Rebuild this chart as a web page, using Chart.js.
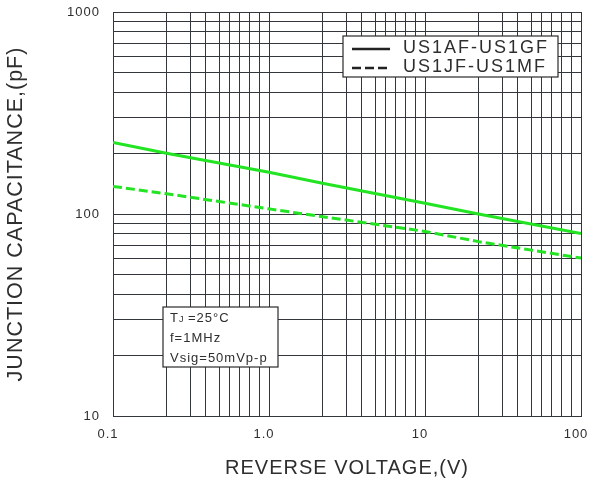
<!DOCTYPE html>
<html>
<head>
<meta charset="utf-8">
<script src="https://cdn.jsdelivr.net/npm/chart.js@4.4.0/dist/chart.umd.min.js"></script>
<style>
  body { margin: 0; background: #fff; }
  #wrap { width: 590px; height: 483px; }
</style>
</head>
<body>
<div id="wrap"><canvas id="chart_instance" width="590" height="483"></canvas></div>
<script>
// values
var voltage = [0.1, 0.22, 1, 2.2, 10, 22, 100];
var capAtoG = [226, 200, 161, 142, 113, 100, 80];
var capJtoM = [137, 126, 106, 97, 82, 73, 60.5];
var seriesNames = ["US1AF-US1GF", "US1JF-US1MF"];

var xTickValues = [0.1, 1, 10, 100];
var xTickLabels = ["0.1", "1.0", "10", "100"];
var yTickValues = [10, 100, 1000];
var yTickLabels = ["10", "100", "1000"];

// grid lines of the original sheet (they are not exactly 2..9 on x)
var xGridSteps = [1, 2.21, 3.16, 3.89, 4.79, 5.55, 6.43, 7.45, 8.63];
var yGridSteps = [1, 2, 3, 4, 5, 6, 7, 8, 9];
var noteLines = ["=25°C", "f=1MHz", "Vsig=50mVp-p"];

var green = "#22e422";
var gridColor = "#33363c";
var textColor = "#2e2e2e";
var fontFamily = "'Liberation Sans', Arial, sans-serif";

function gridFor(steps, lo, hi) {
    var out = [];
    for (var d = lo; d < hi; d *= 10) {
        steps.forEach(function (s) { out.push({ value: d * s }); });
    }
    out.push({ value: hi });
    return out;
}

function labelFor(values, labels, v) {
    for (var i = 0; i < values.length; i++) {
        if (Math.abs(values[i] - v) / values[i] < 1e-6) return labels[i];
    }
    return "";
}

var spacingPlugin = {
    id: "spacing",
    beforeLayout: function (chart) { chart.ctx.letterSpacing = "1px"; },
    beforeDraw: function (chart) { chart.ctx.letterSpacing = "1px"; }
};

var boxesPlugin = {
    id: "boxes",
    afterDraw: function (chart) {
        var ctx = chart.ctx;
        var area = chart.chartArea;
        ctx.save();

        // legend box
        var lx = area.left + 230, ly = area.top + 24, lw = 215, lh = 41;
        ctx.fillStyle = "#fff";
        ctx.fillRect(lx, ly, lw, lh);
        ctx.strokeStyle = "#2a2a2a";
        ctx.lineWidth = 1.2;
        ctx.strokeRect(lx, ly, lw, lh);
        ctx.font = "18px " + fontFamily;
        ctx.letterSpacing = "2px";
        ctx.textBaseline = "middle";
        ctx.fillStyle = textColor;
        chart.data.datasets.forEach(function (ds, i) {
            var yy = ly + 12 + i * 19;
            ctx.beginPath();
            ctx.setLineDash(ds.borderDash || []);
            ctx.lineWidth = 2.5;
            ctx.strokeStyle = "#222";
            ctx.moveTo(lx + 9, yy + 1);
            ctx.lineTo(lx + 47, yy + 1);
            ctx.stroke();
            ctx.setLineDash([]);
            ctx.fillText(ds.label, lx + 60, yy);
        });

        // test condition box
        var nx = area.left + 50, ny = 307, nw = 115, nh = 60;
        ctx.fillStyle = "#fff";
        ctx.fillRect(nx, ny, nw, nh);
        ctx.strokeStyle = "#2a2a2a";
        ctx.lineWidth = 1.2;
        ctx.strokeRect(nx, ny, nw, nh);
        ctx.fillStyle = textColor;
        ctx.letterSpacing = "1px";
        ctx.font = "13px " + fontFamily;
        ctx.textBaseline = "alphabetic";
        var bx = nx + 7;
        ctx.fillText("T", bx, ny + 15);
        var tw = ctx.measureText("T").width;
        ctx.font = "9px " + fontFamily;
        ctx.fillText("J", bx + tw, ny + 15);
        var jw = ctx.measureText("J ").width;
        ctx.font = "13px " + fontFamily;
        ctx.fillText(noteLines[0], bx + tw + jw, ny + 15);
        ctx.fillText(noteLines[1], bx, ny + 35);
        ctx.fillText(noteLines[2], bx, ny + 55);
        ctx.restore();
    }
};

var ctx2d = document.getElementById("chart_instance").getContext("2d");
var chart_instance = new Chart(ctx2d, {
    type: "line",
    data: {
        datasets: [
            {
                label: seriesNames[0],
                data: voltage.map(function (v, i) { return { x: v, y: capAtoG[i] }; }),
                borderColor: green,
                borderWidth: 3,
                pointRadius: 0,
                tension: 0
            },
            {
                label: seriesNames[1],
                data: voltage.map(function (v, i) { return { x: v, y: capJtoM[i] }; }),
                borderColor: green,
                borderWidth: 3,
                borderDash: [9, 4],
                pointRadius: 0,
                tension: 0
            }
        ]
    },
    options: {
        responsive: false,
        animation: false,
        layout: { padding: { top: 12, right: 9, left: 0, bottom: 0 } },
        plugins: {
            legend: { display: false },
            tooltip: { enabled: false }
        },
        scales: {
            x: {
                type: "logarithmic",
                min: 0.1,
                max: 100,
                afterBuildTicks: function (scale) { scale.ticks = gridFor(xGridSteps, 0.1, 100); },
                afterFit: function (scale) {
                    scale.height = 67;
                    scale.paddingLeft = 0;
                    scale.paddingRight = 0;
                },
                grid: { color: gridColor, lineWidth: 1, drawTicks: false },
                border: { color: gridColor, width: 1 },
                ticks: {
                    autoSkip: false,
                    maxRotation: 0,
                    padding: 11,
                    labelOffset: -5,
                    color: textColor,
                    font: { family: fontFamily, size: 13 },
                    callback: function (v) { return labelFor(xTickValues, xTickLabels, v); }
                },
                title: {
                    display: true,
                    text: "REVERSE VOLTAGE,(V)",
                    color: textColor,
                    font: { family: fontFamily, size: 20 },
                    padding: { top: 0, bottom: 3 }
                }
            },
            y: {
                type: "logarithmic",
                min: 10,
                max: 1000,
                afterBuildTicks: function (scale) { scale.ticks = gridFor(yGridSteps, 10, 1000); },
                afterFit: function (scale) {
                    scale.width = 113;
                    scale.paddingTop = 0;
                    scale.paddingBottom = 0;
                },
                grid: { color: gridColor, lineWidth: 1, drawTicks: false },
                border: { color: gridColor, width: 1 },
                ticks: {
                    autoSkip: false,
                    padding: 13,
                    color: textColor,
                    font: { family: fontFamily, size: 13 },
                    callback: function (v) { return labelFor(yTickValues, yTickLabels, v); }
                },
                title: {
                    display: true,
                    text: "JUNCTION CAPACITANCE,(pF)",
                    color: textColor,
                    font: { family: fontFamily, size: 21.5 },
                    padding: { top: 3, bottom: 0 }
                }
            }
        }
    },
    plugins: [spacingPlugin, boxesPlugin]
});
</script>
</body>
</html>
